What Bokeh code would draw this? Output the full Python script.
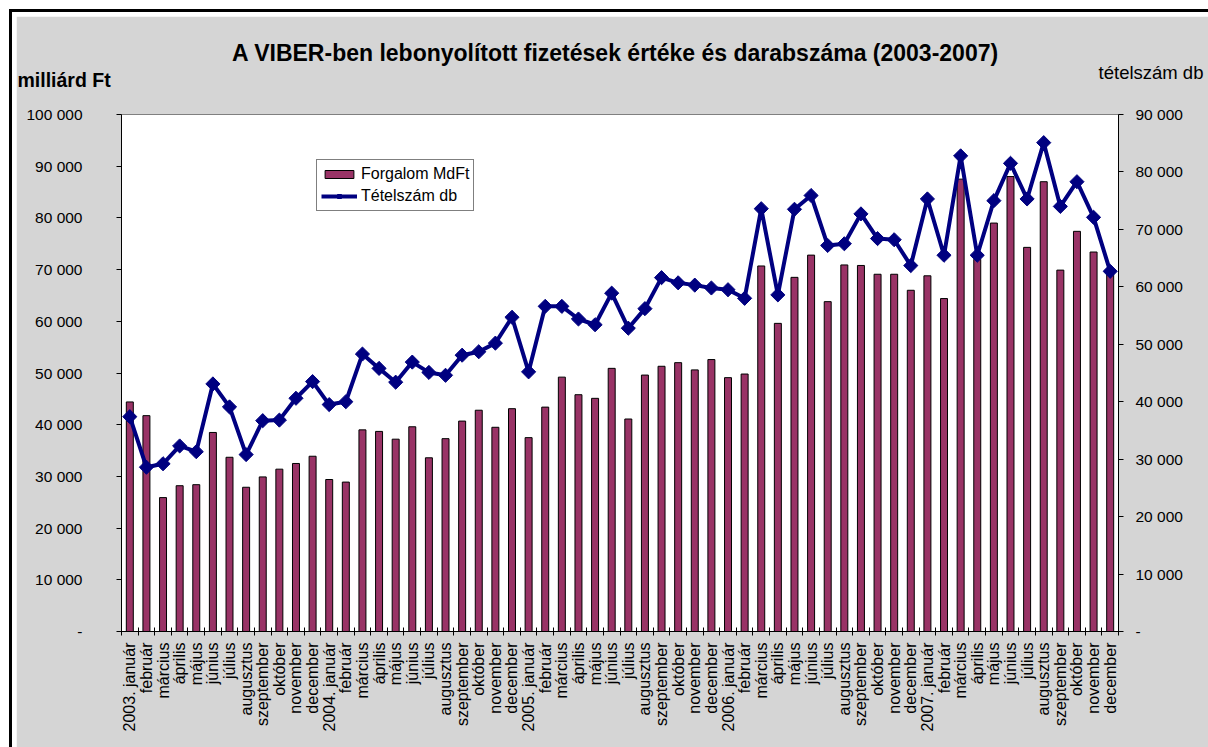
import math
from bokeh.plotting import figure
from bokeh.models import (Range1d, LinearAxis, FixedTicker, Label, Legend, LegendItem,
                          ColumnDataSource)
from bokeh.embed import file_html
from bokeh.resources import INLINE

months_hu = ["január", "február", "március", "április", "május", "június", "július",
             "augusztus", "szeptember", "október", "november", "december"]
years = [2003, 2004, 2005, 2006, 2007]
month_labels = []
for y in years:
    for i, m in enumerate(months_hu):
        month_labels.append(f"{y}. {m}" if i == 0 else m)

forgalom_mdft = [
    44400, 41750, 25900, 28200, 28400, 38500, 33700, 27900, 29900, 31400, 32500, 33900,
    29400, 28900, 39000, 38700, 37200, 39600, 33600, 37300, 40700, 42800, 39500, 43100,
    37500, 43400, 49200, 45800, 45100, 50900, 41100, 49600, 51300, 52000, 50600, 52600,
    49100, 49800, 70700, 59600, 68500, 72800, 63800, 70900, 70800, 69100, 69100, 66000,
    68800, 64400, 87500, 72000, 79000, 88000, 74300, 87000, 69900, 77400, 73400, 69800,
]
tetelszam_db = [
    37400, 28600, 29200, 32300, 31300, 43100, 39100, 30800, 36700, 36800, 40600, 43500,
    39500, 40000, 48300, 45800, 43400, 46900, 45100, 44600, 48100, 48700, 50200, 54700,
    45200, 56600, 56600, 54400, 53400, 58900, 52800, 56200, 61600, 60700, 60300, 59800,
    59500, 58000, 73600, 58600, 73500, 75900, 67200, 67500, 72700, 68400, 68200, 63700,
    75300, 65500, 82800, 65500, 75000, 81500, 75300, 85100, 74000, 78300, 72100, 62700,
]
left_ticks = list(range(0, 100001, 10000))
right_ticks = list(range(0, 90001, 10000))

def fmt(v):
    return "-" if v == 0 else f"{v:,}".replace(",", " ")

FONT = "Liberation Sans"
BG = "#d5d5d5"

n = len(month_labels)
xpos = [i + 0.5 for i in range(n)]
src = ColumnDataSource(dict(x=xpos, forg=forgalom_mdft, tet=tetelszam_db))

p = figure(width=1199, height=738, x_range=Range1d(0, n), y_range=Range1d(0, 100000),
           output_backend="svg", toolbar_location=None,
           min_border_left=105, min_border_right=97, min_border_top=98, min_border_bottom=123)
p.styles = {"margin-left": "9px", "margin-top": "9px",
            "border-left": "3px solid black", "border-top": "3px solid black",
            "padding-left": "4px", "padding-top": "4px", "background-color": "white"}
p.background_fill_color = "white"
p.border_fill_color = BG
p.outline_line_color = "#808080"
p.outline_line_width = 1
p.grid.visible = False

p.extra_y_ranges = {"db": Range1d(0, 90000)}

bars = p.vbar(x="x", top="forg", width=0.42, source=src, fill_color="#993366",
              line_color="black", line_width=1)
ln = p.line(x="x", y="tet", source=src, y_range_name="db", line_color="#000080", line_width=4)
mk = p.scatter(x="x", y="tet", source=src, y_range_name="db", marker="square",
               angle=math.pi / 4, size=10, fill_color="#000080", line_color="#000080")

# left axis
ya = p.yaxis[0]
ya.ticker = FixedTicker(ticks=left_ticks)
ya.major_label_overrides = {t: fmt(t) for t in left_ticks}
ya.minor_tick_line_color = None
ya.major_tick_in = 0
ya.major_tick_out = 5
ya.axis_line_color = "black"
ya.major_label_text_font = FONT
ya.major_label_text_font_size = "15.5px"
ya.major_label_text_color = "black"
ya.major_label_standoff = 34

ra = LinearAxis(y_range_name="db", ticker=FixedTicker(ticks=right_ticks))
ra.major_label_overrides = {t: fmt(t) for t in right_ticks}
ra.minor_tick_line_color = None
ra.major_tick_in = 0
ra.major_tick_out = 5
ra.axis_line_color = "black"
ra.major_label_text_font = FONT
ra.major_label_text_font_size = "15.5px"
ra.major_label_text_color = "black"
ra.major_label_standoff = 12
p.add_layout(ra, "right")

xa = p.xaxis[0]
xa.ticker = FixedTicker(ticks=xpos, minor_ticks=list(range(n + 1)))
xa.major_label_overrides = {x: lab for x, lab in zip(xpos, month_labels)}
xa.major_label_orientation = math.pi / 2
xa.major_label_text_font = FONT
xa.major_label_text_font_size = "16px"
xa.major_label_text_color = "black"
xa.major_tick_line_color = None
xa.major_tick_in = 0
xa.major_tick_out = 0
xa.minor_tick_line_color = "black"
xa.minor_tick_in = 4
xa.minor_tick_out = 4
xa.axis_line_color = "black"
xa.major_label_standoff = 7

# texts placed in the top margin (side panel, so they are not clipped to the frame)
p.add_layout(Label(x=29.73, y=111990, text="A VIBER-ben lebonyolított fizetések értéke és darabszáma (2003-2007)",
                   text_align="center", text_baseline="middle", text_font=FONT,
                   text_font_size="23px", text_font_style="bold", text_color="black"), "above")
p.add_layout(Label(x=-6.26, y=106580, text="milliárd Ft",
                   text_align="left", text_baseline="middle", text_font=FONT,
                   text_font_size="19.5px", text_font_style="bold", text_color="black"), "above")
p.add_layout(Label(x=58.8, y=108120, text="tételszám db",
                   text_align="left", text_baseline="middle", text_font=FONT,
                   text_font_size="18.5px", text_color="black"), "above")

legend = Legend(items=[LegendItem(label="Forgalom MdFt", renderers=[bars]),
                       LegendItem(label="Tételszám db", renderers=[ln, mk])],
                location=(195, 420), background_fill_color="white", background_fill_alpha=1,
                border_line_color="black", border_line_width=1, label_text_font=FONT,
                label_text_font_size="16px", label_text_color="black", glyph_width=36,
                glyph_height=10, spacing=2, padding=4, margin=0, label_standoff=4,
                label_height=20)
p.add_layout(legend, "center")

open("out.html", "w").write(file_html(p, INLINE))
